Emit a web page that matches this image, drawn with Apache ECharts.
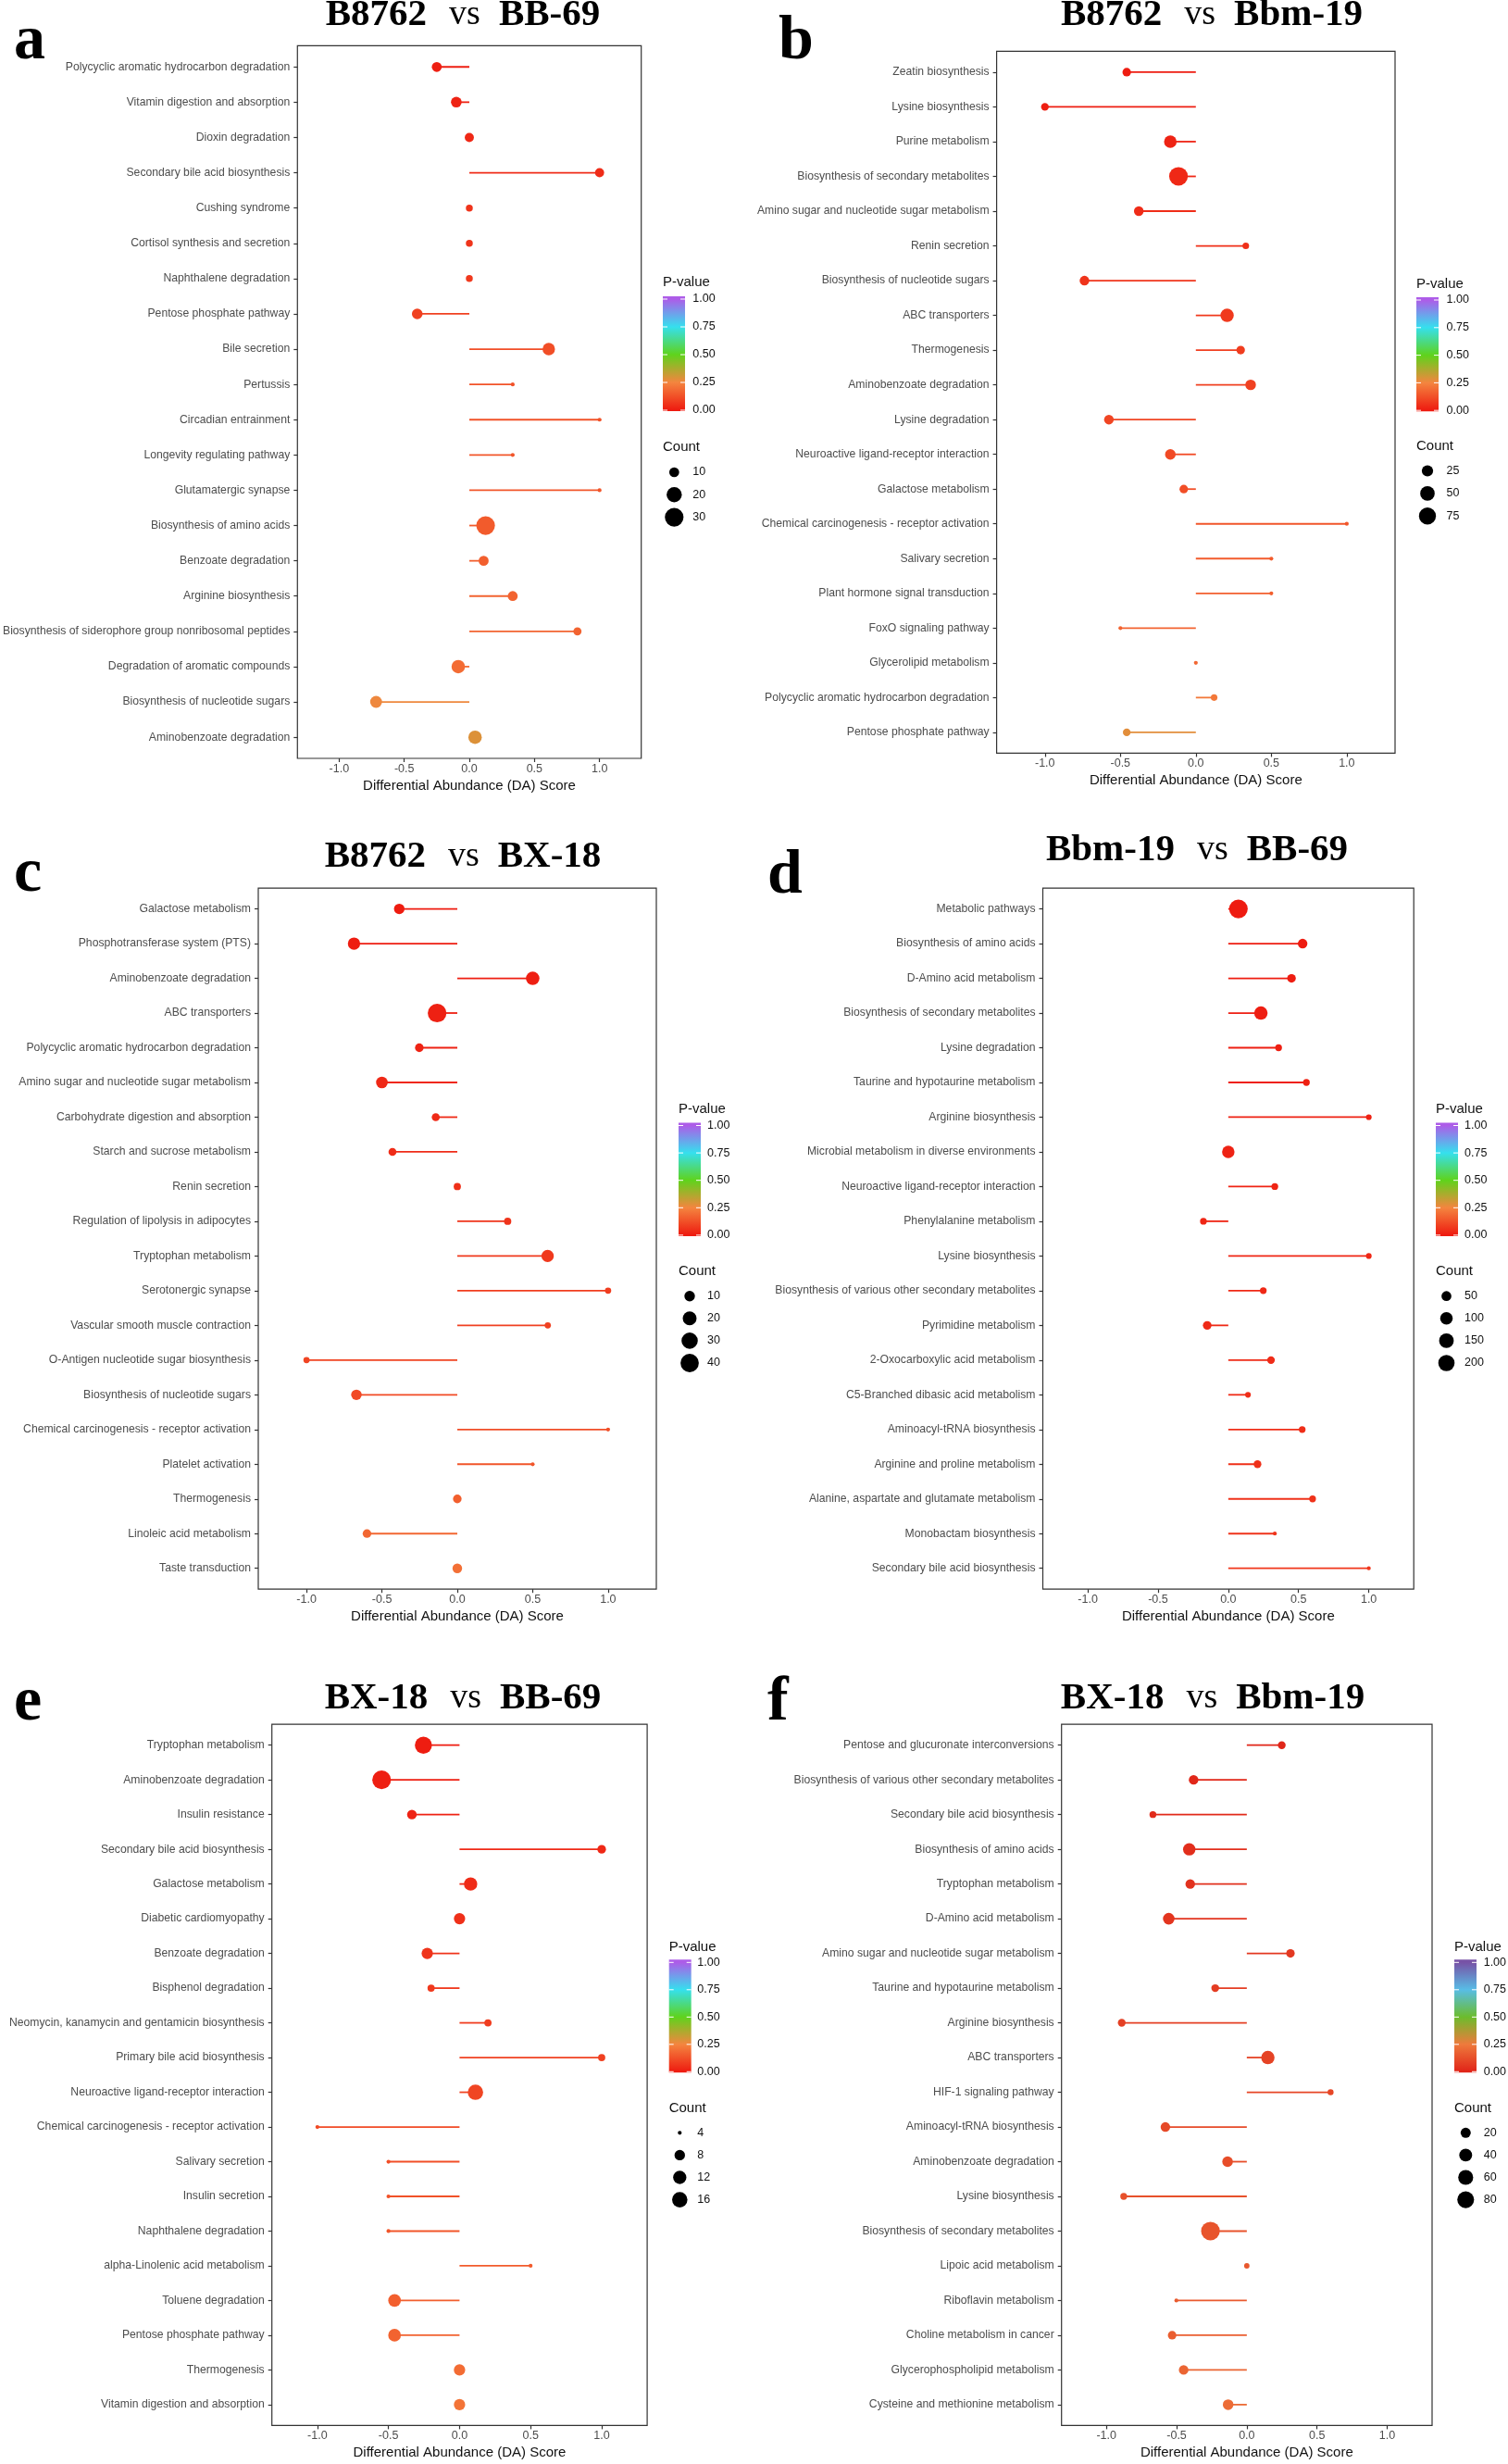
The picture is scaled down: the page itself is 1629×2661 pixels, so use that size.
<!DOCTYPE html>
<html><head><meta charset="utf-8">
<script src="https://cdn.jsdelivr.net/npm/echarts@6/dist/echarts.min.js"></script>
<style>html,body{margin:0;padding:0;background:#fff}#c{width:1629px;height:2661px}</style>
</head><body><div id="c"></div>
<script>
// ---------------- data ----------------
const xTicks = [-1, -0.5, 0, 0.5, 1];
const pvalTicks = [1, 0.75, 0.5, 0.25, 0];

const catsA = ['Polycyclic aromatic hydrocarbon degradation','Vitamin digestion and absorption','Dioxin degradation','Secondary bile acid biosynthesis','Cushing syndrome','Cortisol synthesis and secretion','Naphthalene degradation','Pentose phosphate pathway','Bile secretion','Pertussis','Circadian entrainment','Longevity regulating pathway','Glutamatergic synapse','Biosynthesis of amino acids','Benzoate degradation','Arginine biosynthesis','Biosynthesis of siderophore group nonribosomal peptides','Degradation of aromatic compounds','Biosynthesis of nucleotide sugars','Aminobenzoate degradation'];
const daA = [-0.25,-0.10,0,1.0,0,0,0,-0.40,0.61,0.333,1.0,0.333,1.0,0.125,0.11,0.333,0.83,-0.085,-0.716,0.044];
const cntA = [10,11,9,9,7,7,7,11,14,6,6,6,6,30,10,10,8,16,13,16];
const pA = [0.01,0.02,0.03,0.04,0.06,0.06,0.07,0.09,0.12,0.13,0.13,0.14,0.14,0.15,0.16,0.17,0.17,0.19,0.26,0.29];
const brA = [10,20,30];

const catsB = ['Zeatin biosynthesis','Lysine biosynthesis','Purine metabolism','Biosynthesis of secondary metabolites','Amino sugar and nucleotide sugar metabolism','Renin secretion','Biosynthesis of nucleotide sugars','ABC transporters','Thermogenesis','Aminobenzoate degradation','Lysine degradation','Neuroactive ligand-receptor interaction','Galactose metabolism','Chemical carcinogenesis - receptor activation','Salivary secretion','Plant hormone signal transduction','FoxO signaling pathway','Glycerolipid metabolism','Polycyclic aromatic hydrocarbon degradation','Pentose phosphate pathway'];
const daB = [-0.458,-1.0,-0.169,-0.115,-0.378,0.331,-0.738,0.207,0.297,0.363,-0.576,-0.169,-0.08,1.0,0.5,0.5,-0.5,0,0.121,-0.458];
const cntB = [11,8,34,95,16,5,16,40,11,21,16,21,11,2,2,2,2,2,5,8];
const pB = [0.003,0.01,0.02,0.03,0.04,0.05,0.06,0.07,0.08,0.09,0.10,0.11,0.12,0.14,0.15,0.16,0.17,0.18,0.22,0.28];
const brB = [25,50,75];

const catsC = ['Galactose metabolism','Phosphotransferase system (PTS)','Aminobenzoate degradation','ABC transporters','Polycyclic aromatic hydrocarbon degradation','Amino sugar and nucleotide sugar metabolism','Carbohydrate digestion and absorption','Starch and sucrose metabolism','Renin secretion','Regulation of lipolysis in adipocytes','Tryptophan metabolism','Serotonergic synapse','Vascular smooth muscle contraction','O-Antigen nucleotide sugar biosynthesis','Biosynthesis of nucleotide sugars','Chemical carcinogenesis - receptor activation','Platelet activation','Thermogenesis','Linoleic acid metabolism','Taste transduction'];
const daC = [-0.385,-0.685,0.5,-0.134,-0.252,-0.5,-0.143,-0.43,0,0.334,0.599,1.0,0.6,-1.0,-0.669,1.0,0.5,0,-0.599,0];
const cntC = [10,15,19,42,6,13,5,5,4,4,15,3,3,3,10,2,2,6,6,8];
const pC = [0.002,0.005,0.01,0.015,0.02,0.03,0.035,0.04,0.05,0.06,0.07,0.08,0.09,0.10,0.11,0.12,0.14,0.16,0.18,0.20];
const brC = [10,20,30,40];

const catsD = ['Metabolic pathways','Biosynthesis of amino acids','D-Amino acid metabolism','Biosynthesis of secondary metabolites','Lysine degradation','Taurine and hypotaurine metabolism','Arginine biosynthesis','Microbial metabolism in diverse environments','Neuroactive ligand-receptor interaction','Phenylalanine metabolism','Lysine biosynthesis','Biosynthesis of various other secondary metabolites','Pyrimidine metabolism','2-Oxocarboxylic acid metabolism','C5-Branched dibasic acid metabolism','Aminoacyl-tRNA biosynthesis','Arginine and proline metabolism','Alanine, aspartate and glutamate metabolism','Monobactam biosynthesis','Secondary bile acid biosynthesis'];
const daD = [0.072,0.529,0.45,0.232,0.358,0.556,1.0,0,0.331,-0.177,1.0,0.249,-0.15,0.304,0.14,0.526,0.208,0.6,0.331,1.0];
const cntD = [280,46,33,118,15,15,9,96,15,15,9,15,33,23,9,15,23,15,5,5];
const pD = [0.001,0.003,0.005,0.008,0.01,0.012,0.015,0.02,0.022,0.025,0.028,0.03,0.035,0.04,0.042,0.045,0.05,0.055,0.06,0.065];
const brD = [50,100,150,200];

const catsE = ['Tryptophan metabolism','Aminobenzoate degradation','Insulin resistance','Secondary bile acid biosynthesis','Galactose metabolism','Diabetic cardiomyopathy','Benzoate degradation','Bisphenol degradation','Neomycin, kanamycin and gentamicin biosynthesis','Primary bile acid biosynthesis','Neuroactive ligand-receptor interaction','Chemical carcinogenesis - receptor activation','Salivary secretion','Insulin secretion','Naphthalene degradation','alpha-Linolenic acid metabolism','Toluene degradation','Pentose phosphate pathway','Thermogenesis','Vitamin digestion and absorption'];
const daE = [-0.254,-0.548,-0.335,1.0,0.078,0,-0.227,-0.2,0.2,1.0,0.112,-1.0,-0.5,-0.5,-0.5,0.5,-0.457,-0.457,0,0];
const cntE = [20,24,7,6,12,9,9,5,5,5,16,4,4,4,4,4,11,11,9,9];
const pE = [0.005,0.01,0.02,0.03,0.04,0.05,0.06,0.07,0.08,0.09,0.10,0.11,0.12,0.13,0.14,0.15,0.16,0.17,0.19,0.21];
const brE = [4,8,12,16];

const catsF = ['Pentose and glucuronate interconversions','Biosynthesis of various other secondary metabolites','Secondary bile acid biosynthesis','Biosynthesis of amino acids','Tryptophan metabolism','D-Amino acid metabolism','Amino sugar and nucleotide sugar metabolism','Taurine and hypotaurine metabolism','Arginine biosynthesis','ABC transporters','HIF-1 signaling pathway','Aminoacyl-tRNA biosynthesis','Aminobenzoate degradation','Lysine biosynthesis','Biosynthesis of secondary metabolites','Lipoic acid metabolism','Riboflavin metabolism','Choline metabolism in cancer','Glycerophospholipid metabolism','Cysteine and methionine metabolism'];
const daF = [0.249,-0.379,-0.669,-0.41,-0.403,-0.556,0.311,-0.225,-0.891,0.15,0.597,-0.58,-0.137,-0.877,-0.259,0,-0.502,-0.532,-0.45,-0.133];
const cntF = [9,17,6,36,17,30,12,9,9,44,4,17,23,6,105,3,2,12,17,23];
const pF = [0.005,0.01,0.02,0.03,0.04,0.05,0.06,0.07,0.08,0.09,0.10,0.11,0.12,0.13,0.14,0.15,0.16,0.17,0.19,0.21];
const brF = [20,40,60,80];

const palMain = ['#ee1b10','#f4853f','#5fd31c','#35e0ee','#ad5ce8'];
const palF = ['#e02418','#ee7a3c','#6cbc2c','#58bde6','#7752a6'];

// ---------------- layout ----------------
const panels = [
  {letter:'a', t1:'B8762', t2:'BB-69', cats:catsA, da:daA, cnt:cntA, p:pA, br:brA, pal:palMain,
   grid:{left:321, top:49.4, width:371.7, height:769.6}, titleX:500, titleBase:30, letterX:15, letterBase:68,
   leg:{x:716, pTitleY:305, tick1:323, step:30, cTitleY:483.3, dotX:728.3, dotY0:510, dotStep:24.3, labX:748.3}},
  {letter:'b', t1:'B8762', t2:'Bbm-19', cats:catsB, da:daB, cnt:cntB, p:pB, br:brB, pal:palMain,
   grid:{left:1076.6, top:55.4, width:430.4, height:758}, titleX:1309, titleBase:30, letterX:841, letterBase:68,
   leg:{x:1530, pTitleY:307, tick1:324, step:29.8, cTitleY:481.6, dotX:1542, dotY0:508.5, dotStep:24.4, labX:1562.5}},
  {letter:'c', t1:'B8762', t2:'BX-18', cats:catsC, da:daC, cnt:cntC, p:pC, br:brC, pal:palMain,
   grid:{left:279, top:959.1, width:430, height:757.1}, titleX:500, titleBase:939, letterX:15, letterBase:967,
   leg:{x:733, pTitleY:1198, tick1:1215.5, step:29.6, cTitleY:1372.7, dotX:745, dotY0:1399.7, dotStep:24.1, labX:764}},
  {letter:'d', t1:'Bbm-19', t2:'BB-69', cats:catsD, da:daD, cnt:cntD, p:pD, br:brD, pal:palMain,
   grid:{left:1126.5, top:959.1, width:400.7, height:757.1}, titleX:1293, titleBase:932, letterX:829, letterBase:969,
   leg:{x:1551, pTitleY:1198, tick1:1215.5, step:29.6, cTitleY:1372.7, dotX:1562.5, dotY0:1399.7, dotStep:24.1, labX:1582}},
  {letter:'e', t1:'BX-18', t2:'BB-69', cats:catsE, da:daE, cnt:cntE, p:pE, br:brE, pal:palMain,
   grid:{left:293.7, top:1862.2, width:405.4, height:757.2}, titleX:500, titleBase:1848, letterX:15, letterBase:1862,
   leg:{x:722.7, pTitleY:2102.5, tick1:2119.3, step:29.5, cTitleY:2277, dotX:734.3, dotY0:2303.3, dotStep:24.1, labX:753.3}},
  {letter:'f', t1:'BX-18', t2:'Bbm-19', cats:catsF, da:daF, cnt:cntF, p:pF, br:brF, pal:palF,
   grid:{left:1146.7, top:1862.2, width:400.3, height:757.2}, titleX:1310, titleBase:1848, letterX:829, letterBase:1862,
   leg:{x:1571, pTitleY:2102.5, tick1:2119.3, step:29.5, cTitleY:2277, dotX:1583.3, dotY0:2303.3, dotStep:24.1, labX:1602.7}}
];

// ggplot-like area size scale
function sizeFn(cnt) {
  const mn = Math.min(...cnt), mx = Math.max(...cnt);
  return function (c) {
    let f = mx > mn ? (c - mn) / (mx - mn) : 0;
    f = Math.max(0, Math.min(1, f));
    const s = 1 + 5 * Math.sqrt(f);
    return 1.12 * (2.845 * s + 0.945);
  };
}

const SANS = 'Liberation Sans, Arial, sans-serif';
const SERIF = 'Liberation Serif, Times New Roman, serif';

const grids = [], xAxes = [], yAxes = [], series = [], vms = [], graphics = [];

panels.forEach((P, i) => {
  const n = P.cats.length;
  const idx = P.cats.map((_, k) => k);
  const sz = sizeFn(P.cnt);
  const data = P.da.map((v, k) => [v, k, P.cnt[k], P.p[k]]);

  grids.push(Object.assign({show: true, borderColor: '#333', borderWidth: 1.2, backgroundColor: '#fff'}, P.grid));

  xAxes.push({
    gridIndex: i, type: 'value', min: -1.32, max: 1.32,
    axisLine: {show: false, onZero: false},
    axisTick: {show: true, length: 4, customValues: xTicks, lineStyle: {color: '#333', width: 1.2}},
    axisLabel: {customValues: xTicks, formatter: v => v.toFixed(1), color: '#4d4d4d', fontSize: 12.5, fontFamily: SANS, margin: 5},
    splitLine: {show: false},
    name: 'Differential Abundance (DA) Score', nameLocation: 'middle', nameGap: 22,
    nameTextStyle: {color: '#111', fontSize: 15, fontFamily: SANS}
  });

  yAxes.push({
    gridIndex: i, type: 'value', inverse: true, min: -0.6, max: n - 0.4,
    axisLine: {show: false, onZero: false},
    axisTick: {show: true, length: 4, customValues: idx, lineStyle: {color: '#333', width: 1.2}},
    axisLabel: {customValues: idx, formatter: v => P.cats[Math.round(v)], color: '#4d4d4d', fontSize: 12.2, fontFamily: SANS, margin: 8},
    splitLine: {show: false}
  });

  series.push({
    type: 'custom', xAxisIndex: i, yAxisIndex: i, data: data, encode: {x: 0, y: 1}, z: 2, silent: true,
    renderItem: function (params, api) {
      const v = api.value(0), y = api.value(1);
      const a = api.coord([0, y]), b = api.coord([v, y]);
      return {type: 'line', shape: {x1: a[0], y1: a[1], x2: b[0], y2: b[1]},
              style: {stroke: api.visual('color'), lineWidth: 1.8}};
    }
  });
  series.push({
    type: 'scatter', xAxisIndex: i, yAxisIndex: i, data: data, z: 3, silent: true,
    symbol: 'circle', symbolSize: v => sz(v[2]), itemStyle: {opacity: 1}
  });

  vms.push({type: 'continuous', show: false, min: 0, max: 1, dimension: 3,
            seriesIndex: [2 * i, 2 * i + 1], inRange: {color: P.pal}});

  // panel letter
  graphics.push({type: 'text', x: P.letterX, y: P.letterBase - 23,
    style: {text: P.letter, fontFamily: SERIF, fontWeight: 'bold', fontSize: 68, fill: '#000', verticalAlign: 'middle', align: 'left'}});
  // title
  graphics.push({type: 'text', x: P.titleX, y: P.titleBase - 14,
    style: {text: '{b|' + P.t1 + '}{v|vs}{b|' + P.t2 + '}', align: 'center', verticalAlign: 'middle',
      rich: {b: {fontFamily: SERIF, fontWeight: 'bold', fontSize: 41, fill: '#000'},
             v: {fontFamily: SERIF, fontSize: 38, fill: '#000', padding: [0, 20, 0, 24]}}}});

  // P-value colourbar legend
  const L = P.leg;
  graphics.push({type: 'text', x: L.x, y: L.pTitleY,
    style: {text: 'P-value', fontFamily: SANS, fontSize: 15, fill: '#111', verticalAlign: 'middle'}});
  const yTop = L.tick1 - 3, yBot = L.tick1 + 4 * L.step + 1;
  const stops = P.pal.map((c, k) => ({offset: k / (P.pal.length - 1), color: c})).reverse()
    .map(s => ({offset: 1 - s.offset, color: s.color}));
  // gradient: top = p 1, bottom = p 0 (map ticks)
  const gStops = [];
  P.pal.forEach((c, k) => {
    const pv = k / (P.pal.length - 1);
    const yy = L.tick1 + (1 - pv) * 4 * L.step;
    gStops.push({offset: (yy - yTop) / (yBot - yTop), color: c});
  });
  gStops.sort((a, b) => a.offset - b.offset);
  graphics.push({type: 'rect', shape: {x: L.x, y: yTop, width: 24, height: yBot - yTop},
    style: {fill: new echarts.graphic.LinearGradient(0, 0, 0, 1,
      [{offset: 0, color: P.pal[P.pal.length - 1]}].concat(gStops).concat([{offset: 1, color: P.pal[0]}]))}});
  pvalTicks.forEach((pv, k) => {
    const yy = L.tick1 + k * L.step;
    graphics.push({type: 'line', shape: {x1: L.x, y1: yy, x2: L.x + 5, y2: yy}, style: {stroke: '#fff', lineWidth: 1}});
    graphics.push({type: 'line', shape: {x1: L.x + 19, y1: yy, x2: L.x + 24, y2: yy}, style: {stroke: '#fff', lineWidth: 1}});
    graphics.push({type: 'text', x: L.labX, y: yy,
      style: {text: pv.toFixed(2), fontFamily: SANS, fontSize: 12.5, fill: '#111', verticalAlign: 'middle'}});
  });

  // Count size legend
  graphics.push({type: 'text', x: L.x, y: L.cTitleY,
    style: {text: 'Count', fontFamily: SANS, fontSize: 15, fill: '#111', verticalAlign: 'middle'}});
  P.br.forEach((c, k) => {
    const yy = L.dotY0 + k * L.dotStep;
    graphics.push({type: 'circle', shape: {cx: L.dotX, cy: yy, r: sz(c) / 2}, style: {fill: '#000'}});
    graphics.push({type: 'text', x: L.labX, y: yy,
      style: {text: String(c), fontFamily: SANS, fontSize: 12.5, fill: '#111', verticalAlign: 'middle'}});
  });
});

const chart = echarts.init(document.getElementById('c'));
chart.setOption({
  animation: false,
  backgroundColor: '#fff',
  grid: grids, xAxis: xAxes, yAxis: yAxes, series: series, visualMap: vms,
  graphic: {elements: graphics}
});
</script>
</body></html>
